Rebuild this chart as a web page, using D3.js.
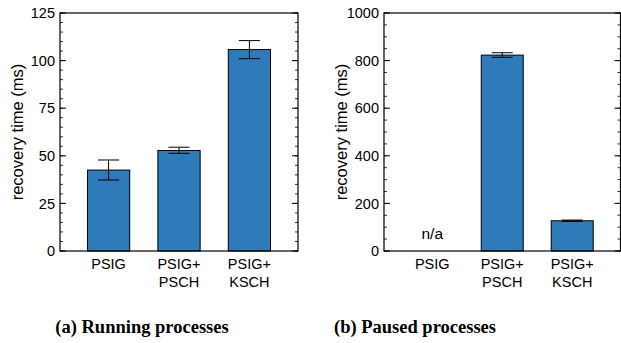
<!DOCTYPE html>
<html>
<head>
<meta charset="utf-8">
<script src="https://cdn.jsdelivr.net/npm/d3@7"></script>
<style>
  body { margin: 0; background: #fff; }
  text { font-family: "Liberation Sans", Arial, sans-serif; fill: #000; }
  .caption { font-family: "Liberation Serif", "DejaVu Serif", serif; font-weight: bold; }
</style>
</head>
<body>
<div id="chart"></div>
<script>
// categories, as two-line tick labels
var categories = ["PSIG", "PSIG+PSCH", "PSIG+KSCH"];
var tickLines = [["PSIG"], ["PSIG+", "PSCH"], ["PSIG+", "KSCH"]];

// (a) running processes, ms
var runningMean = [42.5, 52.8, 105.8];
var runningLow  = [37.3, 51.3, 101.0];
var runningHigh = [47.8, 54.5, 110.5];

// (b) paused processes, ms (PSIG has no value)
var pausedMean = [null, 823, 127];
var pausedLow  = [null, 814, 124];
var pausedHigh = [null, 833, 130];

var runningTicks = [0, 25, 50, 75, 100, 125];
var pausedTicks = [0, 200, 400, 600, 800, 1000];

var width = 621, height = 343;
var barColor = "#2f7bb9";

var svg = d3.select("#chart").append("svg")
    .attr("width", width)
    .attr("height", height);

function panel(opts) {
    var g = svg.append("g");
    var top = 13, bottom = 251;

    var x = d3.scalePoint()
        .domain(categories)
        .range([opts.left, opts.right])
        .padding(0.69);
    var bw = x.step() * 0.6;

    var y = d3.scaleLinear()
        .domain([0, opts.max])
        .range([bottom, top]);

    // minor ticks, left and right, inward
    var minor = d3.range(0, opts.max + 0.001, opts.minor);
    g.selectAll(".minL").data(minor).enter().append("line")
        .attr("x1", opts.left).attr("x2", opts.left + 3)
        .attr("y1", function(d){ return y(d); }).attr("y2", function(d){ return y(d); })
        .attr("stroke", "#000").attr("stroke-width", 0.8);
    g.selectAll(".minR").data(minor).enter().append("line")
        .attr("x1", opts.right).attr("x2", opts.right - 3)
        .attr("y1", function(d){ return y(d); }).attr("y2", function(d){ return y(d); })
        .attr("stroke", "#000").attr("stroke-width", 0.8);

    // major ticks
    g.selectAll(".majL").data(opts.ticks).enter().append("line")
        .attr("x1", opts.left).attr("x2", opts.left + 6)
        .attr("y1", function(d){ return y(d); }).attr("y2", function(d){ return y(d); })
        .attr("stroke", "#000");
    g.selectAll(".majR").data(opts.ticks).enter().append("line")
        .attr("x1", opts.right).attr("x2", opts.right - 6)
        .attr("y1", function(d){ return y(d); }).attr("y2", function(d){ return y(d); })
        .attr("stroke", "#000");

    g.selectAll(".ylab").data(opts.ticks).enter().append("text")
        .attr("x", opts.left - 5)
        .attr("y", function(d){ return y(d); })
        .attr("dy", "0.36em")
        .attr("text-anchor", "end")
        .attr("font-size", 14.5)
        .text(function(d){ return d; });

    // bars
    var idx = d3.range(categories.length).filter(function(i){ return opts.mean[i] != null; });
    g.selectAll(".bar").data(idx).enter().append("rect")
        .attr("x", function(i){ return x(categories[i]) - bw / 2; })
        .attr("width", bw)
        .attr("y", function(i){ return y(opts.mean[i]); })
        .attr("height", function(i){ return y(0) - y(opts.mean[i]); })
        .attr("fill", barColor)
        .attr("stroke", "#000")
        .attr("stroke-width", 1);

    // error bars
    var cap = bw / 4;
    idx.forEach(function(i) {
        var cx = x(categories[i]);
        var p = "M" + cx + "," + y(opts.low[i]) + "V" + y(opts.high[i]) +
                "M" + (cx - cap) + "," + y(opts.high[i]) + "H" + (cx + cap) +
                "M" + (cx - cap) + "," + y(opts.low[i]) + "H" + (cx + cap);
        g.append("path").attr("d", p).attr("fill", "none")
            .attr("stroke", "#000").attr("stroke-width", 1);
    });

    // n/a markers
    categories.forEach(function(c, i) {
        if (opts.mean[i] == null) {
            g.append("text")
                .attr("x", x(c)).attr("y", bottom - 12)
                .attr("text-anchor", "middle")
                .attr("font-size", 15.5)
                .text("n/a");
        }
    });

    // frame
    g.append("rect")
        .attr("x", opts.left).attr("y", top)
        .attr("width", opts.right - opts.left).attr("height", bottom - top)
        .attr("fill", "none").attr("stroke", "#000").attr("stroke-width", 1.2);

    // x tick labels
    categories.forEach(function(c, i) {
        var t = g.append("text")
            .attr("x", x(c)).attr("y", 269)
            .attr("text-anchor", "middle")
            .attr("font-size", 14.5);
        tickLines[i].forEach(function(s, k) {
            t.append("tspan").attr("x", x(c)).attr("dy", k ? 17.5 : 0).text(s);
        });
    });

    // y label
    g.append("text")
        .attr("transform", "translate(" + opts.labelX + "," + ((top + bottom) / 2) + ") rotate(-90)")
        .attr("text-anchor", "middle")
        .attr("dy", "0.35em")
        .attr("font-size", 16.5)
        .text("recovery time (ms)");

    // caption
    svg.append("text")
        .attr("class", "caption")
        .attr("x", opts.capX).attr("y", 333)
        .attr("text-anchor", "middle")
        .attr("font-size", 18.5)
        .text(opts.caption);
}

panel({ left: 60, right: 298, max: 125, minor: 5, ticks: runningTicks,
        mean: runningMean, low: runningLow, high: runningHigh,
        labelX: 17, capX: 142, caption: "(a) Running processes" });

panel({ left: 384, right: 620.5, max: 1000, minor: 50, ticks: pausedTicks,
        mean: pausedMean, low: pausedLow, high: pausedHigh,
        labelX: 341, capX: 415, caption: "(b) Paused processes" });
</script>
</body>
</html>
